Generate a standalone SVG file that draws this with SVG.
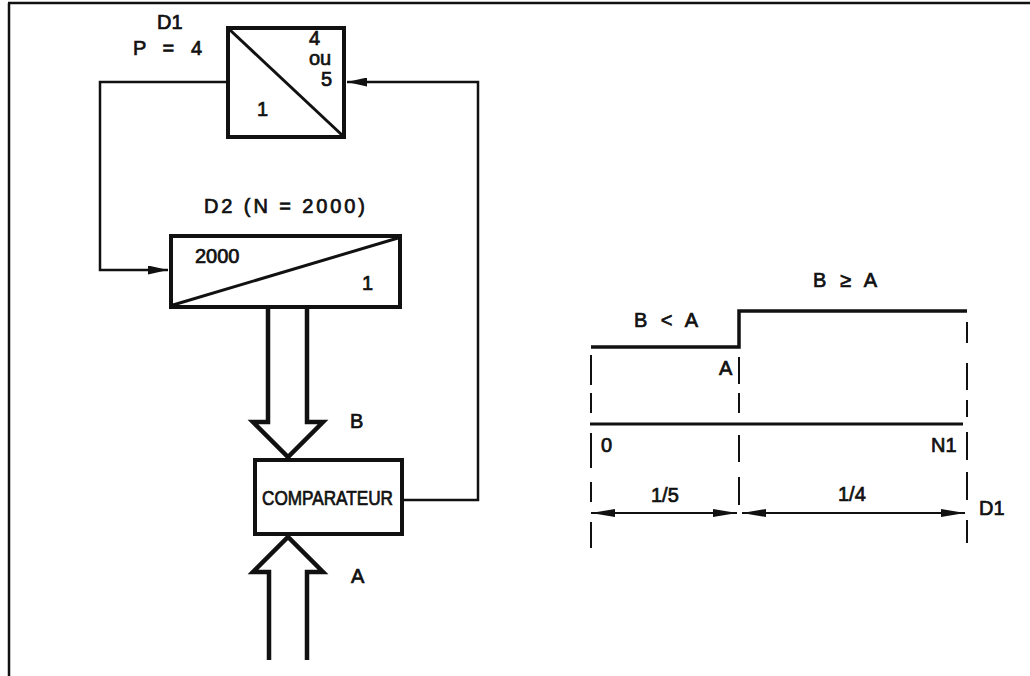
<svg xmlns="http://www.w3.org/2000/svg" width="1030" height="676" viewBox="0 0 1030 676">
<style>
.t{font-family:"Liberation Sans",Arial,sans-serif;font-size:20px;fill:#111;stroke:#111;stroke-width:0.7}
.box{fill:#fff;stroke:#111;stroke-width:4}
.diag{stroke:#111;stroke-width:3;fill:none}
.wire{fill:none;stroke:#111;stroke-width:2.5}
.bus{fill:#fff;stroke:#111;stroke-width:4.5;stroke-linejoin:miter}
.dash{fill:none;stroke:#111;stroke-width:2}
.dim{fill:none;stroke:#111;stroke-width:1.8}
</style>
<defs>
<marker id="ah" markerUnits="userSpaceOnUse" markerWidth="20" markerHeight="9" refX="20" refY="4.5" orient="auto"><path d="M0,0 L20,4.5 L0,9 z" fill="#111"/></marker>
<marker id="dh" markerUnits="userSpaceOnUse" markerWidth="24" markerHeight="8" refX="24" refY="4" orient="auto-start-reverse"><path d="M0,0 L24,4 L0,8 z" fill="#111"/></marker>
</defs>
<g id="frame"><path d="M8,3 H1030" class="wire"/><path d="M9,3 V676" class="wire"/></g>
<g id="connectors">
<path class="wire" d="M227,82 H100 V270 H168" marker-end="url(#ah)"/>
<path class="wire" d="M402,500 H478 V82 H347" marker-end="url(#ah)"/>
<path id="busB" class="bus" d="M268,308 V422 H253 L288,457 L323,422 H307 V308"/>
<path id="busA" class="bus" d="M269,660 V572 H253 L288,537 L323,572 H307 V660"/>
<text class="t" x="350" y="428">B</text>
<text class="t" x="351" y="583">A</text>
</g>
<g id="D1">
<rect class="box" x="228" y="28" width="116" height="109"/>
<path class="diag" d="M230,30 L342,135"/>
<text class="t" x="157" y="29">D1</text>
<text class="t" x="133" y="55" textLength="69" lengthAdjust="spacing">P = 4</text>
<text class="t" x="309" y="45">4</text>
<text class="t" x="309" y="65">ou</text>
<text class="t" x="321" y="86">5</text>
<text class="t" x="257" y="116">1</text>
</g>
<g id="D2">
<text class="t" x="204" y="213" textLength="161" lengthAdjust="spacing">D2 (N = 2000)</text>
<rect class="box" x="171" y="236" width="229" height="71"/>
<path class="diag" d="M173,305 L398,238"/>
<text class="t" x="195" y="263">2000</text>
<text class="t" x="362" y="290">1</text>
</g>
<g id="comparateur">
<rect class="box" x="255" y="460" width="147" height="74"/>
<text class="t" x="262" y="505" font-size="21" textLength="131" lengthAdjust="spacingAndGlyphs">COMPARATEUR</text>
</g>
<g id="chart">
<path d="M591,347 H739 V311 H967" fill="none" stroke="#111" stroke-width="3.5"/>
<path d="M590,424 H963" fill="none" stroke="#111" stroke-width="3"/>
<path class="dash" d="M591,355 V385 M591,393 V413 M591,433 V468 M591,482 V502 M591,522 V548"/>
<path class="dash" d="M739,357 V384 M739,393 V413 M739,435 V462 M739,477 V505"/>
<path class="dash" d="M967,322 V343 M967,363 V390 M967,400 V417 M967,432 V460 M967,472 V500 M967,520 V543"/>
<path class="dim" d="M591,513 H737" marker-start="url(#dh)" marker-end="url(#dh)"/>
<path class="dim" d="M742,513 H965" marker-start="url(#dh)" marker-end="url(#dh)"/>
<text class="t" x="813" y="287" textLength="64" lengthAdjust="spacing">B ≥ A</text>
<text class="t" x="634" y="327" textLength="64" lengthAdjust="spacing">B &lt; A</text>
<text class="t" x="719" y="375">A</text>
<text class="t" x="601" y="452">0</text>
<text class="t" x="931" y="452">N1</text>
<text class="t" x="651" y="502">1/5</text>
<text class="t" x="838" y="501">1/4</text>
<text class="t" x="979" y="515">D1</text>
</g>
</svg>
